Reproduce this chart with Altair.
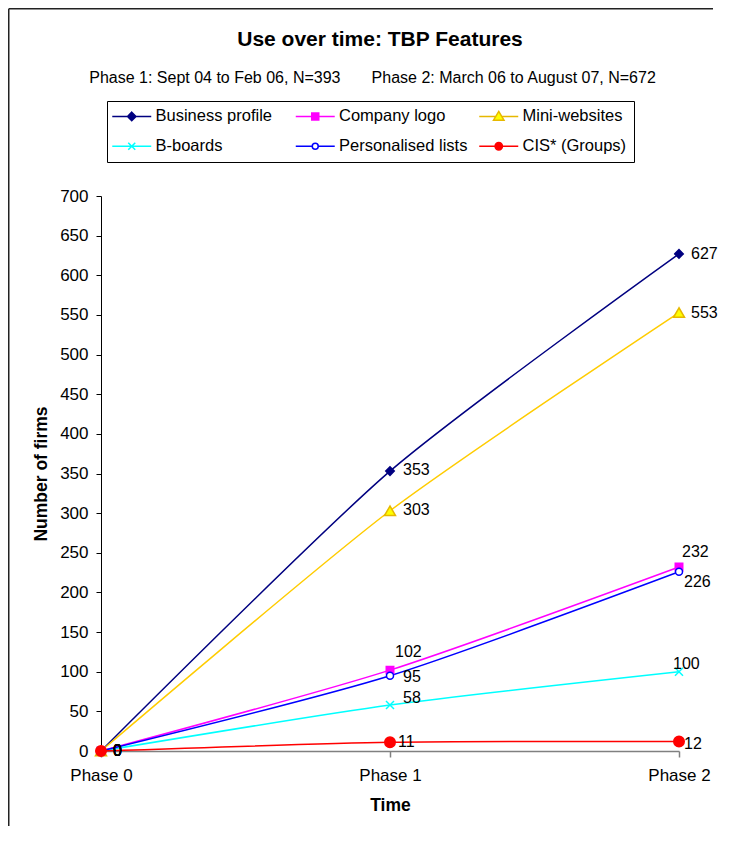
import altair as alt
import pandas as pd

# ---------------- data ----------------
phases = ["Phase 0", "Phase 1", "Phase 2"]
series_names = ["Business profile", "Company logo", "Mini-websites",
                "B-boards", "Personalised lists", "CIS* (Groups)"]
business_profile = [0, 353, 627]
company_logo = [0, 102, 232]
mini_websites = [0, 303, 553]
b_boards = [0, 58, 100]
personalised_lists = [0, 95, 226]
cis_groups = [0, 11, 12]
y_ticks = list(range(0, 701, 50))

NB = "\u00a0"
title_text = "\u2800" + "Use over time: TBP Features"
subtitle_text = "Phase 1: Sept 04 to Feb 06, N=393" + NB * 7 + "Phase 2: March 06 to August 07, N=672"
x_title = "Time"
y_title = "Number of firms"

series_values = [business_profile, company_logo, mini_websites,
                 b_boards, personalised_lists, cis_groups]
rows = []
for name, vals in zip(series_names, series_values):
    for ph, v in zip(phases, vals):
        rows.append({"series": name, "phase": ph, "value": v, "key": name + "|" + ph})
df = pd.DataFrame(rows)

# ---------------- styles ----------------
FONT = "Liberation Sans, Arial, sans-serif"
line_colors = ["#000080", "#FF00FF", "#FFCC00", "#00FFFF", "#0000FF", "#FF0000"]
marker_fill = ["#000080", "#FF00FF", "#FFFF00", "transparent", "#FFFFFF", "#FF0000"]
marker_stroke = ["#000080", "#FF00FF", "#E6B800", "#00FFFF", "#0000FF", "#FF0000"]
X_PATH = "M-1,-1L1,1M-1,1L1,-1"
marker_shapes = ["diamond", "square", "triangle-up", X_PATH, "circle", "circle"]
marker_sizes = [72, 56, 121, 64, 49, 110]

L = 5.57
legend_paths = [
    f"M{-L},0H-1.2M1.2,0H{L}M0,-1.2L1.2,0L0,1.2L-1.2,0Z",
    f"M{-L},0H-1M1,0H{L}M-1,-1H1V1H-1Z",
    f"M{-L},0H-0.85M0.85,0H{L}M0,-1.4L1.5,1.1L-1.5,1.1Z",
    f"M{-L},0H{L}M-1,-1L1,1M-1,1L1,-1",
    f"M{-L},0H-0.85M0.85,0H{L}M0.85,0A0.85,0.85 0 1,1 -0.85,0A0.85,0.85 0 1,1 0.85,0Z",
    f"M{-L},0H-1.05M1.05,0H{L}M1.05,0A1.05,1.05 0 1,1 -1.05,0A1.05,1.05 0 1,1 1.05,0Z",
]

# label nudges (dx, dy) in pixels
LABEL_NUDGE = {
    ("Business profile", "Phase 1"): (13, -1), ("Business profile", "Phase 2"): (12, 0),
    ("Mini-websites", "Phase 1"): (13, -1), ("Mini-websites", "Phase 2"): (12, 0),
    ("Company logo", "Phase 1"): (5, -18), ("Company logo", "Phase 2"): (3, -15),
    ("Personalised lists", "Phase 1"): (13, 1), ("Personalised lists", "Phase 2"): (5, 10),
    ("B-boards", "Phase 1"): (13, -7), ("B-boards", "Phase 2"): (-6, -8),
    ("CIS* (Groups)", "Phase 1"): (8, 0), ("CIS* (Groups)", "Phase 2"): (5, 3),
}
DEFAULT_NUDGE = (12, 0)

# ---------------- encodings ----------------
x_enc = alt.X("phase:N", sort=phases, title=x_title,
              scale=alt.Scale(type="point", domain=phases, padding=0),
              axis=alt.Axis(labelAngle=0, domainColor="#808080", domainWidth=1.5,
                            tickColor="#808080", tickWidth=1.5, tickSize=6,
                            labelPadding=10, labelFontSize=17, labelColor="black",
                            titleFontSize=17.5, titleFontWeight="bold", titleColor="black",
                            titlePadding=13, grid=False))
y_enc = alt.Y("value:Q", title=y_title,
              scale=alt.Scale(domain=[0, 700], nice=False, zero=True),
              axis=alt.Axis(values=y_ticks, domainColor="black", tickColor="black",
                            tickSize=5, labelPadding=8, labelFontSize=17,
                            labelColor="black", titleFontSize=17.5, titleFontWeight="bold",
                            titleColor="black", titlePadding=9, grid=False))

base = alt.Chart(df)

line_layers = []
marker_layers = []
for name, lc, shp, fl, st, sz in zip(series_names, line_colors, marker_shapes,
                                     marker_fill, marker_stroke, marker_sizes):
    line_layers.append(
        base.mark_line(interpolate="cardinal", tension=0.3, color=lc, strokeWidth=1.5)
        .transform_filter(alt.datum.series == name)
        .encode(x=x_enc, y=y_enc, order=alt.Order("phase:N"))
    )
    if fl == "transparent":
        mk = base.mark_point(shape=shp, size=sz, stroke=st, strokeWidth=1.5,
                             filled=False, opacity=1)
    else:
        mk = base.mark_point(shape=shp, size=sz, fill=fl, stroke=st, strokeWidth=1.5,
                             filled=True, opacity=1)
    marker_layers.append(mk.transform_filter(alt.datum.series == name).encode(x=x_enc, y=y_enc))

legend_props = dict(title=None, orient="none", legendX=6, legendY=-95, columns=3,
                    direction="horizontal", gridAlign="all", columnPadding=8.5,
                    rowPadding=13, padding=7, strokeColor="black", fillColor="white",
                    labelFontSize=16.5, labelColor="black", labelLimit=300, symbolSize=49,
                    symbolStrokeWidth=1.5, symbolOffset=9.5, labelOffset=15.5)

# layer that only carries the legend (its own points have zero size)
legend_layer = base.mark_point(size=0, strokeWidth=1.5, opacity=1).encode(
    x=x_enc, y=y_enc,
    fill=alt.Fill("series:N", sort=series_names,
                  scale=alt.Scale(domain=series_names, range=marker_fill),
                  legend=alt.Legend(**legend_props)),
    stroke=alt.Stroke("series:N", sort=series_names,
                      scale=alt.Scale(domain=series_names, range=marker_stroke),
                      legend=alt.Legend(**legend_props)),
    shape=alt.Shape("series:N", sort=series_names,
                    scale=alt.Scale(domain=series_names, range=legend_paths),
                    legend=alt.Legend(**legend_props)),
)

# labels grouped by nudge
groups = {}
for name in series_names:
    for ph in phases:
        nd = LABEL_NUDGE.get((name, ph), DEFAULT_NUDGE)
        groups.setdefault(nd, []).append(name + "|" + ph)

label_layers = []
for (dx, dy), keys in groups.items():
    label_layers.append(
        base.mark_text(align="left", baseline="middle", dx=dx, dy=dy,
                       fontSize=16, color="black")
        .transform_filter(alt.FieldOneOfPredicate(field="key", oneOf=keys))
        .encode(x=x_enc, y=y_enc, text=alt.Text("value:Q"))
    )

# frame (top and left edges of the chart area border)
one = alt.Chart(pd.DataFrame({"a": [0]}))
frame_top = one.mark_rule(color="#222222", strokeWidth=1.5).encode(
    x=alt.value(-92.25), x2=alt.value(612), y=alt.value(-187.25))
frame_left = one.mark_rule(color="#222222", strokeWidth=1.5).encode(
    x=alt.value(-92.25), y=alt.value(-187.25), y2=alt.value(630))

chart = alt.layer(
    frame_top, frame_left, *line_layers, *marker_layers, legend_layer, *label_layers
).properties(
    width=578, height=555, padding=0,
    title=alt.TitleParams(text=title_text, subtitle=subtitle_text, fontSize=21,
                          fontWeight="bold", color="black", subtitleFontSize=16,
                          subtitleColor="black", subtitlePadding=20, anchor="middle",
                          frame="group", dx=-17.5, offset=-78),
).configure(font=FONT).configure_view(stroke=None)

chart.save("out.html", embed_options={"renderer": "svg", "actions": False})
